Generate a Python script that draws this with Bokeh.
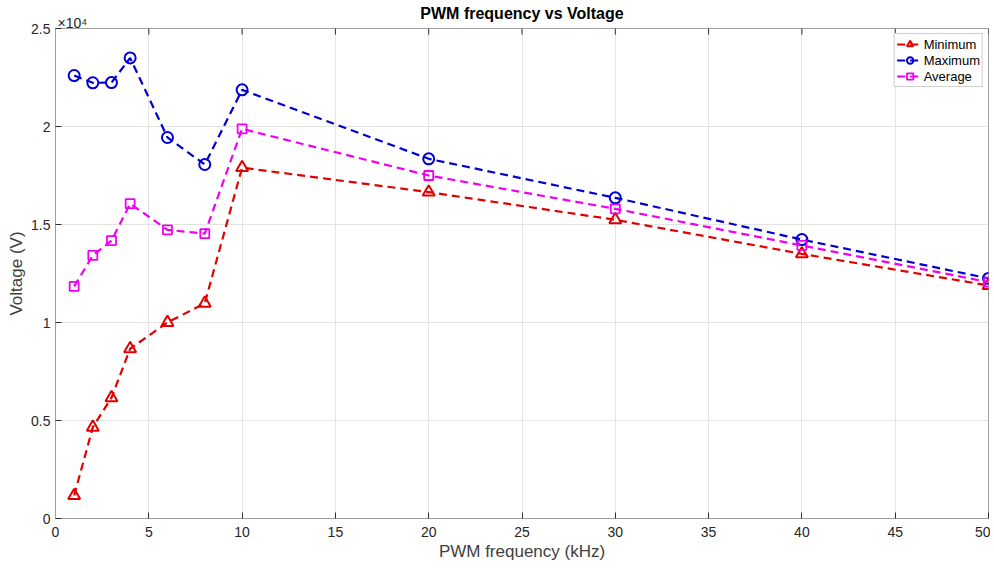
from bokeh.plotting import figure
from bokeh.models import Legend, LegendItem, FixedTicker, Label, Range1d
from bokeh.embed import file_html
from bokeh.resources import INLINE

freq = [1, 2, 3, 4, 6, 8, 10, 20, 30, 40, 50]
v_min = [1170, 4660, 6160, 8660, 10000, 10980, 17900, 16650, 15240, 13500, 11890]
v_max = [22600, 22230, 22240, 23500, 19440, 18060, 21870, 18350, 16360, 14230, 12250]
v_avg = [11840, 13420, 14180, 16060, 14730, 14530, 19880, 17500, 15800, 13930, 12060]

y_ticks = [0, 5000, 10000, 15000, 20000, 25000]
y_tick_labels = ["0", "0.5", "1", "1.5", "2", "2.5"]
x_ticks = [0, 5, 10, 15, 20, 25, 30, 35, 40, 45, 50]
exponent_label = "×10⁴"

FONT = "Liberation Sans"
AX = "#262626"

p = figure(width=990, height=568, output_backend="svg", toolbar_location=None,
           x_range=Range1d(0, 50), y_range=Range1d(0, 25000),
           min_border_left=55, min_border_right=2, min_border_top=28, min_border_bottom=50)

p.title.text = "PWM frequency vs Voltage"
p.title.align = "center"
p.title.text_font = FONT
p.title.text_font_size = "16px"
p.title.text_font_style = "bold"
p.title.text_color = "#000000"
p.title.standoff = -19

p.outline_line_color = "#a0a0a0"
p.outline_line_width = 1

for ax in [p.xaxis[0], p.yaxis[0]]:
    ax.axis_line_color = "#a0a0a0"
    ax.major_tick_line_color = "#303030"
    ax.major_tick_in = 6
    ax.major_tick_out = 0
    ax.minor_tick_line_color = None
    ax.major_label_text_font = FONT
    ax.major_label_text_font_size = "14px"
    ax.major_label_text_color = AX
    ax.axis_label_text_font = FONT
    ax.axis_label_text_font_size = "17px"
    ax.axis_label_text_font_style = "normal"
    ax.axis_label_text_color = "#404040"

p.xaxis.ticker = FixedTicker(ticks=x_ticks)
p.yaxis.ticker = FixedTicker(ticks=y_ticks)
p.yaxis.major_label_overrides = {t: l for t, l in zip(y_ticks, y_tick_labels)}
p.xaxis.axis_label = "PWM frequency (kHz)"
p.yaxis.axis_label = "Voltage (V)"
p.xaxis.major_label_standoff = 8
p.yaxis.major_label_standoff = 5
p.xaxis.axis_label_standoff = 2
p.yaxis.axis_label_standoff = 2

p.xgrid.ticker = FixedTicker(ticks=x_ticks)
p.ygrid.ticker = FixedTicker(ticks=y_ticks)
p.grid.grid_line_color = "#e3e3e3"
p.grid.grid_line_width = 1

# inward ticks on the top edge (box on)
p.scatter(x_ticks, [y_ticks[-1]] * len(x_ticks), marker="dash", angle=1.5708, size=12,
          line_color="#303030", line_width=1)

RED = "#e00000"
BLUE = "#0000d0"
MAG = "#f000f0"
DASH = "8 5"

l1 = p.line(freq, v_min, line_color=RED, line_width=2.2, line_dash=DASH)
m1 = p.scatter(freq, v_min, marker="triangle", size=12, line_color=RED, fill_color=None, line_width=2)
l2 = p.line(freq, v_max, line_color=BLUE, line_width=2.2, line_dash=DASH)
m2 = p.scatter(freq, v_max, marker="circle", size=11, line_color=BLUE, fill_color=None, line_width=2)
l3 = p.line(freq, v_avg, line_color=MAG, line_width=2.2, line_dash=DASH)
m3 = p.scatter(freq, v_avg, marker="square", size=9, line_color=MAG, fill_color=None, line_width=1.8)

legend = Legend(items=[LegendItem(label="Minimum", renderers=[l1, m1]),
                       LegendItem(label="Maximum", renderers=[l2, m2]),
                       LegendItem(label="Average", renderers=[l3, m3])],
                location="top_right")
legend.label_text_font = FONT
legend.label_text_font_size = "13px"
legend.label_text_color = "#000000"
legend.border_line_color = "#a0a0a0"
legend.border_line_width = 1
legend.background_fill_alpha = 1
legend.glyph_width = 26
legend.glyph_height = 16
legend.label_height = 16
legend.spacing = 0
legend.padding = 2
legend.margin = 5
legend.label_standoff = 1
p.add_layout(legend)

# axis exponent marker just above the top-left corner of the axes (side panel: not clipped)
p.add_layout(Label(x=x_ticks[0], y=y_ticks[-1], x_offset=2, y_offset=6, text=exponent_label,
                   text_font=FONT, text_font_size="14px", text_color=AX,
                   text_baseline="alphabetic", text_align="left"), "above")

open("out.html", "w").write(file_html(p, INLINE))
